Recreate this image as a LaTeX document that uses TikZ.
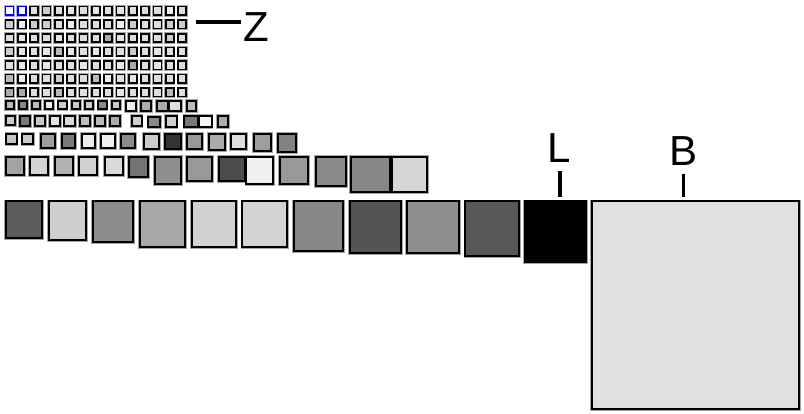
\documentclass[tikz,border=0pt]{standalone}
\usepackage{fontspec}
\setmainfont{Liberation Sans}
\tikzset{
  halo/.style={draw=black!35, line width=3.4pt},
  boxst/.style={draw=black, line width=1.9pt},
  shalo/.style={draw=black!35, line width=3.2pt},
  sbox/.style={draw=black, line width=1.7pt},
  bhalo/.style={draw=blue!35, line width=3.2pt},
  bbox/.style={draw=blue!90!black, line width=1.7pt, fill=white},
  tick/.style={line width=3.5pt},
  lbl/.style={inner sep=0pt, font=\fontsize{42}{48}\selectfont}
}
\begin{document}
\begin{tikzpicture}[x=1pt,y=-1pt]
\useasboundingbox (0,0) rectangle (804,413);
% ---- small grid, rows 1-7
\foreach \r/\vals in {
  0/{13,13,13,20,13,10,13,10,13,10,13,13,13,7,13},
  1/{20,7,20,20,13,7,13,13,13,7,20,13,13,20,20},
  2/{13,10,13,13,10,13,13,13,33,10,13,13,13,20,13},
  3/{20,10,13,10,27,10,13,10,13,13,20,13,10,13,13},
  4/{13,10,13,10,13,13,10,13,13,10,33,13,10,13,13},
  5/{27,7,13,13,20,13,13,27,7,13,10,13,13,13,13},
  6/{33,33,13,13,27,13,13,13,13,10,13,13,13,27,13}} {
  \foreach \v [count=\k from 0] in \vals {
    \pgfmathsetmacro\gx{4+12.33*\k+1.6}
    \pgfmathsetmacro\gy{5+13.6*\r+1.6}
    \draw[shalo] (\gx,\gy) rectangle ++(7.8,8.4);
    \draw[sbox, fill=black!\v] (\gx,\gy) rectangle ++(7.8,8.4);
  }
}
% two blue squares
\foreach \k in {0,1} {
  \pgfmathsetmacro\gx{4+12.33*\k+1.6}
  \draw[bhalo] (\gx,6.6) rectangle ++(7.8,8.4);
  \draw[bbox] (\gx,6.6) rectangle ++(7.8,8.4);
}
% ---- larger boxes, rows 8-12
\def\boxlist{
  4/99/15.5/111/27, 17/99/28.5/111/47, 30/99/41.5/111/27, 43.3/99/55/111/7,
  56.7/99/68.3/111/20, 70/99/81.7/111/20, 83.3/99/95/111/20, 96.7/99/108.3/111/47,
  110/99/121.7/111/20, 124/99/137.5/112.5/7, 139/99/152.5/112.5/33,
  155/99/169.3/112.5/33, 167.7/99/182.5/112.5/13, 185/99/197.5/112.5/27,
  4/114/17/127/20, 18.3/114/31.7/128/53, 33.3/114/46.7/128/22, 48.3/114/61.7/128/11,
  62.7/114/76.7/128/15, 78.3/114/91.7/128/26, 93.3/114/106.7/128/27, 108.3/114/121.7/128/34,
  130/114/143.3/128/19, 146.7/115/161.7/129/46, 164/114/178.3/129/19,
  182.7/114/199.3/129/53, 197.7/114/213.3/129/4, 216/114/230/129/33,
  4.5/132/18.3/146/22, 20.7/132/35/146/20, 39.3/132/56.5/149.5/38, 60/132/76.5/149.5/52,
  80/132/97/149.5/7, 99.3/132/116.5/149.5/6, 119.3/132/136.5/149.5/46, 142/132/160.5/150.5/20,
  163/132/182.5/151/80, 185/132/203.5/150.5/40, 207/132/227/152/33, 229/132/248/151/13,
  252/132/273/153/38, 276/132/297.5/154/49,
  4/155/26/177/36, 28/155/50/177/17, 53/155/75/177/30, 77/155/99/177/18,
  103/155/124.5/177/15, 127/155/150/178.5/55, 153/155/182.5/186/44, 185/155/213.5/183/40,
  217/155/246.3/183/70, 244.7/155/275/185.5/6, 278/155/309.5/186/40, 314/155/347.5/188/46,
  349/155/391.8/194/47, 390.2/155/429/194/16,
  4/199.5/43.5/239.5/64, 47/199.5/88/241.5/19, 91/199.5/135/243.5/45, 138/199.5/186.5/248.5/34,
  190/199.5/237.5/248.5/18, 240.5/199.5/289/248.5/17, 292/199.5/345/252.5/47,
  348/199.5/403/254.5/67, 405/199.5/461/254.5/44, 463.5/199.5/521/257.5/66,
  523/199.5/587.5/263.5/100, 590/199.5/801/410.5/12}
\foreach \xa/\ya/\xb/\yb/\f in \boxlist {
  \draw[halo] ([shift={(1.7,1.7)}]\xa,\ya) rectangle ([shift={(-1.7,-1.7)}]\xb,\yb);
}
\foreach \xa/\ya/\xb/\yb/\f in \boxlist {
  \draw[boxst, fill=black!\f] ([shift={(1.7,1.7)}]\xa,\ya) rectangle ([shift={(-1.7,-1.7)}]\xb,\yb);
}
% ---- labels
\node[lbl] (Z) at (256.5,27.5) {Z};
\coordinate (zs) at (196,22);
\draw[tick] (zs) -- (zs -| Z.west) [shorten >=2.5pt];
\node[lbl] (L) at (558.7,148.5) {L};
\coordinate (lt) at (560,197);
\draw[tick, shorten >=8pt] (lt) -- (lt |- L.south);
\node[lbl] (B) at (684,151.5) {B};
\coordinate (bt) at (683.5,197);
\draw[tick, shorten >=8pt] (bt) -- (bt |- B.south);
\end{tikzpicture}
\end{document}
